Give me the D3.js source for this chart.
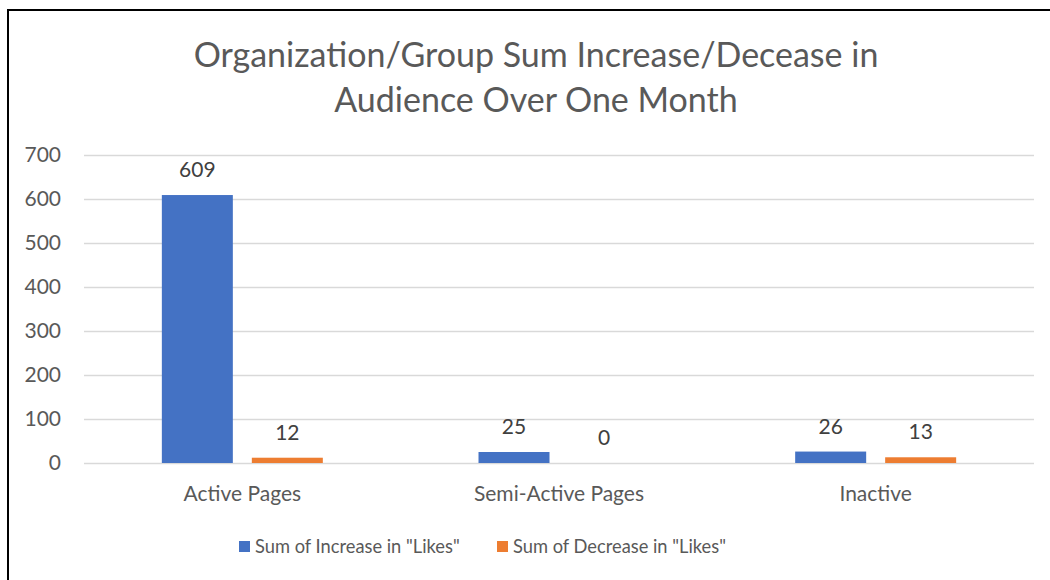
<!DOCTYPE html>
<html><head><meta charset="utf-8">
<script src="https://cdn.jsdelivr.net/npm/d3@7"></script>
<style>body{margin:0;background:#fff}svg{display:block}</style>
</head><body>
<svg id="c" width="1050" height="580"></svg>
<script>
const categories = ["Active Pages", "Semi-Active Pages", "Inactive"];
const seriesNames = ['Sum of Increase in "Likes"', 'Sum of Decrease in "Likes"'];
const increaseValues = [609, 25, 26];
const decreaseValues = [12, 0, 13];
const yTicks = [0, 100, 200, 300, 400, 500, 600, 700];
const colors = ["#4472C4", "#ED7D31"];
const titleLines = ["Organization/Group Sum Increase/Decease in", "Audience Over One Month"];

const font = "Lato, 'Open Sans', sans-serif";
const svg = d3.select("#c");
svg.append("rect").attr("x", 8).attr("y", 10).attr("width", 1100).attr("height", 700)
  .attr("fill", "#fff").attr("stroke", "#000").attr("stroke-width", 2);

const x0 = d3.scaleBand().domain(categories).range([84, 1034]);
const x1 = d3.scaleBand().domain([0, 1]).range([0, x0.bandwidth()]).paddingInner(0.211).paddingOuter(0.865);
const y = d3.scaleLinear().domain([0, 700]).range([463, 155]);

// title
svg.append("g").selectAll("text").data(titleLines).join("text")
  .attr("x", 536).attr("y", (d, i) => 67 + i * 45)
  .attr("text-anchor", "middle").attr("font-family", font).attr("font-size", 34)
  .attr("fill", "#595959").text(d => d);

// grid
const yAxis = d3.axisLeft(y).tickValues(yTicks).tickSize(-(1034 - 84)).tickPadding(23);
const gy = svg.append("g").attr("transform", "translate(84,0)").call(yAxis);
gy.select(".domain").remove();
gy.selectAll(".tick line").attr("stroke", "#d9d9d9").attr("stroke-width", 1.5);
gy.selectAll(".tick text").attr("font-family", font).attr("font-size", 21).attr("fill", "#595959");

// x axis labels
const xAxis = d3.axisBottom(x0).tickSize(0).tickPadding(23);
const gx = svg.append("g").attr("transform", "translate(0,463)").call(xAxis);
gx.select(".domain").remove();
gx.selectAll(".tick text").attr("font-family", font).attr("font-size", 21).attr("fill", "#595959");

const series = [increaseValues, decreaseValues];
const data = [];
categories.forEach((c, ci) => series.forEach((s, si) => data.push({c, si, v: s[ci]})));

svg.append("g").selectAll("rect").data(data).join("rect")
  .attr("x", d => x0(d.c) + x1(d.si)).attr("width", x1.bandwidth())
  .attr("y", d => y(d.v)).attr("height", d => y(0) - y(d.v))
  .attr("fill", d => colors[d.si]);

svg.append("g").selectAll("text").data(data).join("text")
  .attr("x", d => x0(d.c) + x1(d.si) + x1.bandwidth() / 2)
  .attr("y", d => y(d.v) - 18)
  .attr("text-anchor", "middle").attr("font-family", font).attr("font-size", 21)
  .attr("fill", "#404040").text(d => d.v);

// legend
const legX = [239, 497];
const lg = svg.append("g").selectAll("g").data(seriesNames).join("g")
  .attr("transform", (d, i) => `translate(${legX[i]},541)`);
lg.append("rect").attr("width", 11).attr("height", 11).attr("fill", (d, i) => colors[i]);
lg.append("text").attr("x", 16).attr("y", 12).attr("font-family", font).attr("font-size", 18.3)
  .attr("fill", "#595959").text(d => d);
</script>
</body></html>
